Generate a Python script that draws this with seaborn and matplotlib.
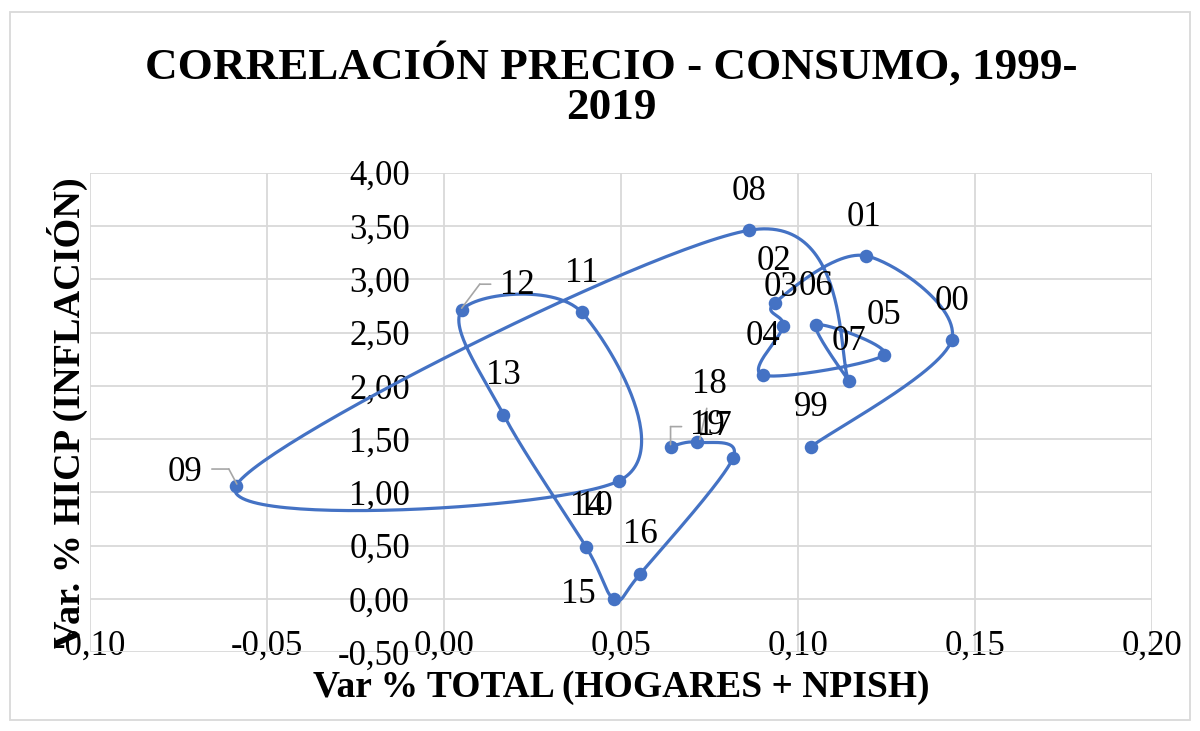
import numpy as np
import pandas as pd
import matplotlib
matplotlib.use("Agg")
import matplotlib.pyplot as plt
import matplotlib.transforms as mtransforms
import seaborn as sns

# ---------------- data ----------------
year_labels = ['99', '00', '01', '02', '03', '04', '05', '06', '07', '08', '09',
               '10', '11', '12', '13', '14', '15', '16', '17', '18', '19']
consumo_var = [0.1037, 0.1434, 0.1192, 0.0935, 0.0958, 0.0901, 0.1243, 0.1051,
               0.1144, 0.0862, -0.0588, 0.0495, 0.0389, 0.0050, 0.0168, 0.0401,
               0.0481, 0.0554, 0.0816, 0.0714, 0.0640]
hicp_var = [1.43, 2.43, 3.22, 2.78, 2.56, 2.10, 2.29, 2.57, 2.05, 3.46, 1.06,
            1.11, 2.69, 2.71, 1.73, 0.49, 0.00, 0.235, 1.32, 1.47, 1.43]
x_ticks = [-0.10, -0.05, 0.00, 0.05, 0.10, 0.15, 0.20]
y_ticks = [-0.50, 0.00, 0.50, 1.00, 1.50, 2.00, 2.50, 3.00, 3.50, 4.00]

title = "CORRELACIÓN PRECIO - CONSUMO, 1999-\n2019"
x_title = "Var % TOTAL (HOGARES + NPISH)"
y_title = "Var. % HICP (INFLACIÓN)"

# ---------------- style ----------------
sns.set_theme(style="white")
plt.rcParams['font.family'] = ['Liberation Serif', 'DejaVu Serif']

BLUE = '#4472C4'
GRID = '#d9d9d9'
LEADER = '#a6a6a6'

W, H = 1200, 731
fig = plt.figure(figsize=(W / 100, H / 100), dpi=100)
ax_l, ax_r, ax_t, ax_b = 90, 1152, 172.7, 652.3
ax = fig.add_axes([ax_l / W, 1 - ax_b / H, (ax_r - ax_l) / W, (ax_b - ax_t) / H])

xmin, xmax = x_ticks[0], x_ticks[-1]
ymin, ymax = y_ticks[0], y_ticks[-1]
ax.set_xlim(xmin, xmax)
ax.set_ylim(ymin, ymax)

# ---------------- smoothed line (Excel-like Catmull-Rom in screen space) ----------------
sx = (ax_r - ax_l) / (xmax - xmin)
sy = (ax_b - ax_t) / (ymax - ymin)
P = np.column_stack([(np.array(consumo_var) - xmin) * sx, (np.array(hicp_var) - ymin) * sy])
Pe = np.vstack([P[0], P, P[-1]])
t = np.linspace(0, 1, 60)[:, None]
curve = []
for i in range(len(P) - 1):
    p0, p1, p2, p3 = Pe[i], Pe[i + 1], Pe[i + 2], Pe[i + 3]
    c1 = p1 + (p2 - p0) / 6.0
    c2 = p2 - (p3 - p1) / 6.0
    seg = ((1 - t) ** 3) * p1 + 3 * ((1 - t) ** 2) * t * c1 + 3 * (1 - t) * (t ** 2) * c2 + (t ** 3) * p2
    curve.append(seg if i == 0 else seg[1:])
curve = np.vstack(curve)
curve_df = pd.DataFrame({'x': curve[:, 0] / sx + xmin, 'y': curve[:, 1] / sy + ymin,
                         'order': np.arange(len(curve))})
pts_df = pd.DataFrame({'x': consumo_var, 'y': hicp_var, 'label': year_labels})

sns.lineplot(data=curve_df, x='x', y='y', sort=False, estimator=None, color=BLUE,
             linewidth=2.3, ax=ax, zorder=3)
sns.scatterplot(data=pts_df, x='x', y='y', color=BLUE, s=95, edgecolor=BLUE,
                linewidth=0, ax=ax, zorder=4)

# ---------------- grid / axes ----------------
ax.set_xticks(x_ticks)
ax.set_yticks(y_ticks)
ax.set_xticklabels([f"{v:.2f}".replace('.', ',') for v in x_ticks])
ax.set_yticklabels([f"{v:.2f}".replace('.', ',') for v in y_ticks])
ax.grid(True, color=GRID, linewidth=1.3)
ax.set_axisbelow(True)
for s in ax.spines.values():
    s.set_visible(False)
ax.spines['left'].set_position(('data', 0.0))
ax.tick_params(axis='both', length=0, labelsize=25, colors='black')
ax.tick_params(axis='y', pad=24.5)
ax.tick_params(axis='x', pad=-16)

ax.set_xlabel(x_title, fontsize=27, fontweight='bold', color='black', va='baseline')
ax.xaxis.set_label_coords(0.5, (ax_b - 697) / (ax_b - ax_t))
ax.set_ylabel(y_title, fontsize=27.5, fontweight='bold', color='black', va='baseline')
ax.yaxis.set_label_coords((80 - ax_l) / (ax_r - ax_l), 0.5)

fig.text(611.5 / W, 1 - 43 / H, title, ha='center', va='top', fontsize=32.5,
         fontweight='bold', color='black', linespacing=1.0)

# ---------------- data labels ----------------
offsets = {'01': (-2, 38), '02': (-1, 41), '03': (-2, 39), '09': (-51, 14),
           '10': (-24, -26), '12': (56, 25), '14': (1, 40), '15': (-36, 5),
           '17': (-18, 32), '18': (13, 58), '19': (37, 21)}
for lab, xv, yv in zip(year_labels, consumo_var, hicp_var):
    dx, dy = offsets.get(lab, (0, 39))
    ax.annotate(lab, (xv, yv), xytext=(dx, dy), textcoords='offset pixels',
                ha='center', va='center', fontsize=25, color='black', zorder=5)

# leader lines (pixel offsets from the data point, y up)
leaders = {'09': [(-24, 17), (-7, 17), (1, 2)],
           '12': [(0, 2), (18, 26), (29, 26)],
           '18': [(10, 34), (3, 3)],
           '19': [(11, 20), (0, 20), (0, 2)]}
for lab, verts in leaders.items():
    i = year_labels.index(lab)
    xv, yv = consumo_var[i], hicp_var[i]
    for (ax0, ay0), (ax1, ay1) in zip(verts[:-1], verts[1:]):
        tr = mtransforms.offset_copy(ax.transData, fig=fig, x=ax0, y=ay0, units='dots')
        ax.annotate('', (xv, yv), xycoords=tr, xytext=(ax1 - ax0, ay1 - ay0),
                    textcoords='offset pixels',
                    arrowprops=dict(arrowstyle='-', color=LEADER, lw=1.2,
                                    shrinkA=0, shrinkB=0), zorder=4.5)

# chart border
fig.patches.append(plt.Rectangle((10 / W, 1 - 720 / H), 1180 / W, 708 / H,
                                 transform=fig.transFigure, fill=False,
                                 edgecolor=GRID, linewidth=1.3))

fig.savefig('out.png', dpi=100, facecolor='white')
